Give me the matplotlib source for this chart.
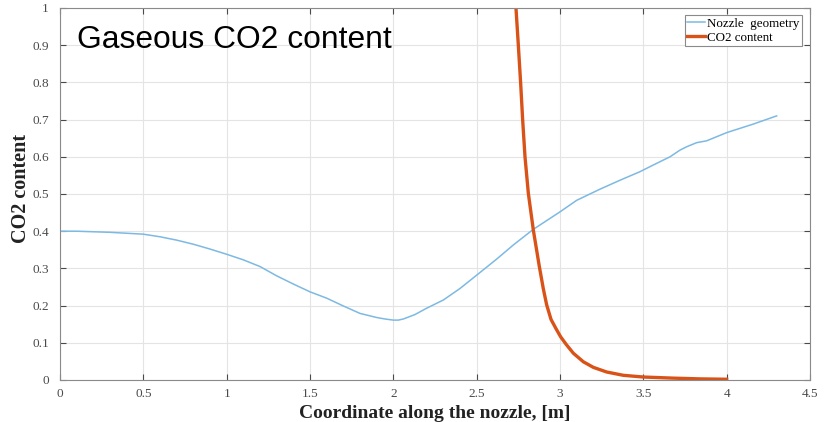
import matplotlib
matplotlib.use("Agg")
import matplotlib.pyplot as plt

# Nozzle geometry (blue)
geom_x = [0.0, 0.1, 0.3, 0.5, 0.6, 0.7, 0.8, 0.9, 1.0, 1.1, 1.2, 1.3, 1.4, 1.5, 1.6, 1.7, 1.8,
          1.9, 1.95, 2.0, 2.03, 2.06, 2.13, 2.2, 2.3, 2.4, 2.52, 2.62, 2.72, 2.84, 3.0, 3.1, 3.24,
          3.36, 3.48, 3.56, 3.66, 3.72, 3.76, 3.82, 3.88, 4.0, 4.16, 4.3]
geom_y = [0.400, 0.400, 0.397, 0.392, 0.385, 0.376, 0.365, 0.352, 0.338, 0.323, 0.305, 0.280,
          0.258, 0.237, 0.220, 0.199, 0.179, 0.168, 0.164, 0.161, 0.161, 0.164, 0.176, 0.193,
          0.215, 0.246, 0.289, 0.325, 0.363, 0.405, 0.452, 0.483, 0.513, 0.537, 0.560, 0.578,
          0.600, 0.618, 0.627, 0.638, 0.643, 0.665, 0.688, 0.710]

# CO2 content (red)
co2_x = [2.730, 2.736, 2.750, 2.764, 2.776, 2.790, 2.810, 2.840, 2.876, 2.900, 2.920, 2.946,
         2.976, 3.004, 3.040, 3.080, 3.140, 3.200, 3.280, 3.380, 3.500, 3.680, 3.840, 4.0]
co2_y = [1.05, 0.999, 0.900, 0.797, 0.699, 0.600, 0.502, 0.403, 0.305, 0.245, 0.202, 0.163,
         0.138, 0.116, 0.094, 0.072, 0.049, 0.034, 0.0215, 0.0126, 0.008, 0.005, 0.003, 0.002]

xticks = [0, 0.5, 1, 1.5, 2, 2.5, 3, 3.5, 4, 4.5]
xticklabels = ["0", "0.5", "1", "1.5", "2", "2.5", "3", "3.5", "4", "4.5"]
yticks = [0, 0.1, 0.2, 0.3, 0.4, 0.5, 0.6, 0.7, 0.8, 0.9, 1]
yticklabels = ["0", "0.1", "0.2", "0.3", "0.4", "0.5", "0.6", "0.7", "0.8", "0.9", "1"]

fig = plt.figure(figsize=(8.31, 4.22), dpi=100)
ax = fig.add_axes([60/831, 42/422, 750/831, 372/422])

ax.plot(geom_x, geom_y, color="#7db9e3", lw=1.1, label="Nozzle  geometry")
ax.plot(co2_x, co2_y, color="#d95319", lw=2.4, label="CO2 content")

ax.set_xlim(0, 4.5)
ax.set_ylim(0, 1)
ax.set_xticks(xticks)
ax.set_xticklabels(xticklabels)
ax.set_yticks(yticks)
ax.set_yticklabels(yticklabels)
ax.grid(True, color="#e4e4e4", lw=0.8)
ax.set_axisbelow(True)
ax.tick_params(direction="in", top=True, right=True, length=4, width=0.8,
               colors="#4a4a4a", labelsize=9.5)
ax.tick_params(axis="x", pad=6)
ax.tick_params(axis="y", pad=8)
for lbl in ax.get_xticklabels() + ax.get_yticklabels():
    lbl.set_family("Liberation Serif")
for s in ax.spines.values():
    s.set_color("#8a8a8a")
    s.set_linewidth(0.8)

ax.set_xlabel("Coordinate along the nozzle, [m]", family="Liberation Serif",
              fontweight="bold", fontsize=14, labelpad=3, color="#222222")
ax.set_ylabel("CO2 content", family="Liberation Serif", fontweight="bold",
              fontsize=14.5, color="#222222")
ax.yaxis.set_label_coords(-0.039, 0.516)

ax.text(0.0227, 0.892, "Gaseous CO2 content", transform=ax.transAxes,
        family="Liberation Sans", fontsize=22.9, va="baseline", ha="left", color="black")

leg = ax.legend(loc="upper right", bbox_to_anchor=(0.9893, 0.981),
                prop={"family": "Liberation Serif", "size": 9.4},
                frameon=True, fancybox=False, edgecolor="#8a8a8a", framealpha=1,
                handlelength=1.35, handletextpad=0.15, borderpad=0.2, labelspacing=0.12,
                borderaxespad=0)
leg.get_frame().set_linewidth(0.8)

fig.savefig("out.png", dpi=100)
